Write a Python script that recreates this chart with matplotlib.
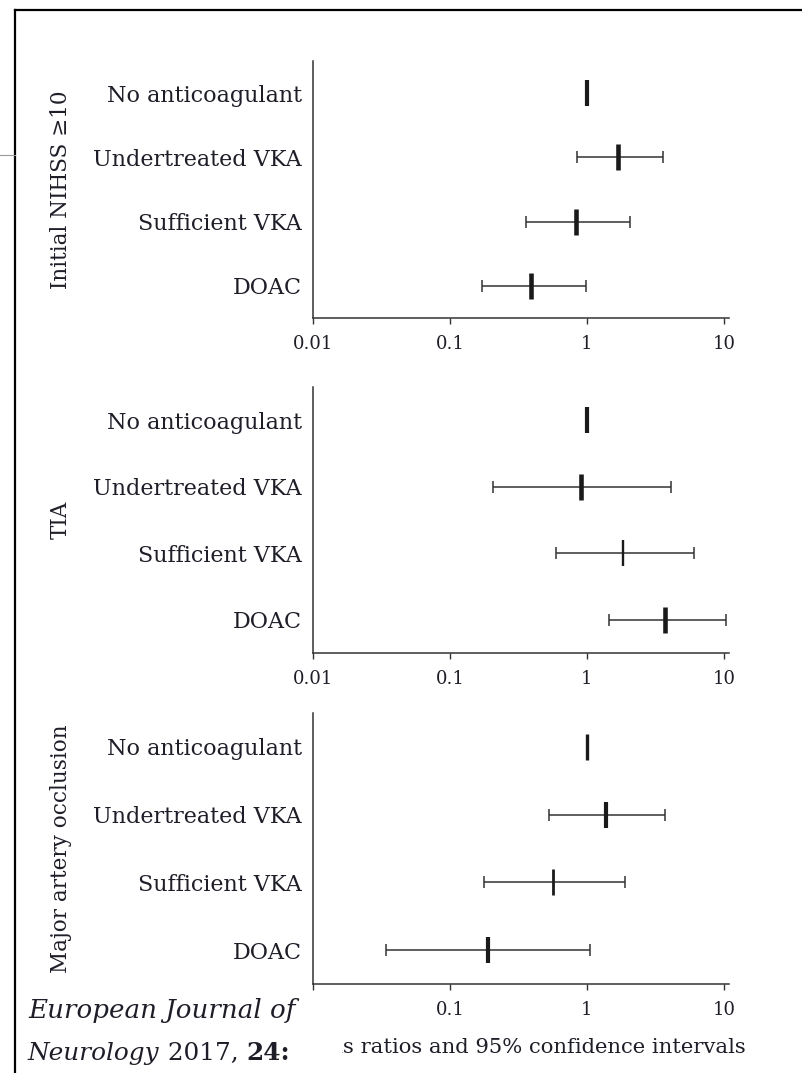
import numpy as np
from matplotlib import pyplot as plt
from matplotlib.patches import Rectangle
from matplotlib.lines import Line2D

W, H = 802, 1073

groups = ["Initial NIHSS \u226510", "TIA", "Major artery occlusion"]
categories = ["No anticoagulant", "Undertreated VKA", "Sufficient VKA", "DOAC"]

# odds ratios with 95% CI (first row is the reference, no interval)
or_nihss = [1.0, 1.69, 0.83, 0.39]
lo_nihss = [np.nan, 0.85, 0.36, 0.17]
hi_nihss = [np.nan, 3.6, 2.07, 0.98]

or_tia = [1.0, 0.90, 1.82, 3.71]
lo_tia = [np.nan, 0.206, 0.59, 1.44]
hi_tia = [np.nan, 4.13, 6.1, 10.3]

or_mao = [1.0, 1.37, 0.565, 0.188]
lo_mao = [np.nan, 0.526, 0.178, 0.034]
hi_mao = [np.nan, 3.71, 1.89, 1.05]

x_ticks = [0.01, 0.1, 1, 10]
x_ticklabels = ["0.01", "0.1", "1", "10"]
x_label = "Odds ratios and 95% confidence intervals"

# pixel boxes of the three panels (top, bottom) and marker widths
panel_px = [(61, 318), (387, 653), (713, 984)]
marker_w = [[3.0, 3.3, 3.3, 3.3], [3.0, 3.3, 1.7, 3.3], [2.4, 3.0, 2.0, 3.0]]

TXT = '#1e1e28'
LINE = '#333333'

plt.rcParams['font.family'] = ['DejaVu Serif']


def draw_panel(ax, ors, lo, hi, widths):
    y = np.arange(len(categories))
    ors = np.asarray(ors)
    lo = np.asarray(lo)
    hi = np.asarray(hi)
    m = ~np.isnan(lo)
    ax.errorbar(ors[m], y[m], xerr=[ors[m] - lo[m], hi[m] - ors[m]], fmt='none',
                ecolor=LINE, elinewidth=1.1, capsize=4.5, capthick=1.1)
    for i in range(len(y)):
        ax.plot(ors[i], y[i], marker='|', ms=19, mew=widths[i], color='#1a1a1a', ls='none')
    ax.set_xscale('log')
    ax.set_xlim(0.01, 10.9)
    ax.set_ylim(len(categories) - 0.5, -0.5)
    ax.set_yticks(y)
    ax.set_yticklabels(categories, fontsize=16, color=TXT)
    ax.set_xticks(x_ticks)
    ax.set_xticklabels(x_ticklabels, fontsize=13, color=TXT)
    ax.xaxis.set_minor_locator(plt.NullLocator())
    ax.tick_params(axis='y', length=0, pad=8)
    ax.tick_params(axis='x', length=4, width=1, color=LINE, pad=8, direction='out')
    for s in ['top', 'right']:
        ax.spines[s].set_visible(False)
    for s in ['left', 'bottom']:
        ax.spines[s].set_color(LINE)
        ax.spines[s].set_linewidth(1.1)


fig = plt.figure(figsize=(W / 100, H / 100), dpi=100)
data = [(or_nihss, lo_nihss, hi_nihss), (or_tia, lo_tia, hi_tia), (or_mao, lo_mao, hi_mao)]
left, right = 313 / W, 729 / W
for k, (top, bot) in enumerate(panel_px):
    ax = fig.add_axes([left, 1 - bot / H, right - left, (bot - top) / H])
    draw_panel(ax, *data[k], marker_w[k])
    fig.text(61 / W, 1 - (top + bot) / 2 / H, groups[k], rotation=90, ha='center', va='center',
             fontsize=15.5, color=TXT)

fig.canvas.draw()
r = fig.canvas.get_renderer()

# axis title of the bottom panel; its first letters sit under the journal box
probe = fig.text(0, 0, "Odd", fontsize=15.2)
off = probe.get_window_extent(r).width
probe.remove()
fig.text((343 - off) / W, 1 - 1053 / H, x_label, ha='left', va='baseline', fontsize=15.2, color=TXT)

# white box with the journal reference covering the lower left corner
fig.patches.append(Rectangle((15 / W, 0), (342 - 15) / W, (H - 992) / H, transform=fig.transFigure,
                             facecolor='white', edgecolor='none', zorder=5))
fig.text(28 / W, 1 - 1018 / H, "European Journal of", fontsize=18.8, style='italic',
         color=TXT, va='baseline', zorder=6)
t1 = fig.text(28 / W, 1 - 1060 / H, "Neurology", fontsize=17.8, style='italic',
              color=TXT, va='baseline', zorder=6)
x1 = t1.get_window_extent(r).x1
t2 = fig.text(x1 / W, 1 - 1060 / H, " 2017, ", fontsize=17.8, color=TXT, va='baseline', zorder=6)
x2 = t2.get_window_extent(r).x1
fig.text(x2 / W, 1 - 1060 / H, "24:", fontsize=17.8, weight='bold', color=TXT, va='baseline', zorder=6)

# page frame
fig.add_artist(Line2D([15 / W, 1], [1 - 10 / H, 1 - 10 / H], color='black', lw=1.6, zorder=7))
fig.add_artist(Line2D([15 / W, 15 / W], [0, 1 - 10 / H], color='black', lw=1.6, zorder=7))
fig.add_artist(Line2D([0, 15 / W], [1 - 155 / H, 1 - 155 / H], color='#999999', lw=0.8, zorder=7))

fig.savefig('out.png', dpi=100)
